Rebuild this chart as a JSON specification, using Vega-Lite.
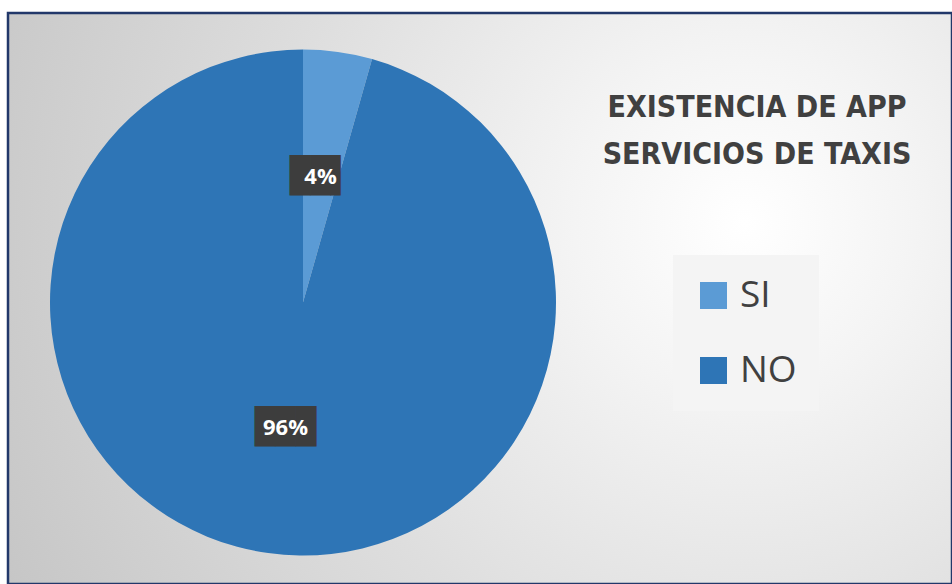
{
  "$schema": "https://vega.github.io/schema/vega-lite/v6.json",
  "autosize": {"type": "fit", "contains": "padding"},
  "width": 952,
  "height": 584,
  "padding": {"left": 8, "top": 13, "right": 0, "bottom": 0},
  "background": "#ffffff",
  "view": {
    "stroke": "#22386a",
    "strokeWidth": 2.5,
    "fill": {
      "gradient": "radial",
      "x1": 0.78, "y1": 0.42, "r1": 0,
      "x2": 0.78, "y2": 0.42, "r2": 0.9,
      "stops": [
        {"offset": 0, "color": "#ffffff"},
        {"offset": 0.2, "color": "#f4f4f4"},
        {"offset": 0.55, "color": "#dedede"},
        {"offset": 1, "color": "#c4c4c4"}
      ]
    }
  },
  "title": {
    "text": ["EXISTENCIA DE APP", "SERVICIOS DE TAXIS"],
    "orient": "top",
    "anchor": "start",
    "frame": "group",
    "align": "center",
    "baseline": "middle",
    "dx": 749,
    "dy": 172,
    "offset": 0,
    "font": "Liberation Sans Narrow, DejaVu Sans Condensed, Lato",
    "fontSize": 30,
    "fontWeight": "bold",
    "lineHeight": 47,
    "color": "#404040"
  },
  "data": {
    "values": [
      {"respuesta": "SI", "porcentaje": 4.4, "etiqueta": "4%"},
      {"respuesta": "NO", "porcentaje": 95.6, "etiqueta": "96%"}
    ]
  },
  "encoding": {
    "theta": {"field": "porcentaje", "type": "quantitative", "stack": true},
    "order": {"field": "porcentaje", "type": "quantitative", "sort": "ascending"}
  },
  "layer": [
    {
      "mark": {"type": "arc", "outerRadius": 253, "x": 295, "y": 289.5},
      "encoding": {
        "color": {
          "field": "respuesta",
          "type": "nominal",
          "scale": {"domain": ["SI", "NO"], "range": ["#5b9bd5", "#2e75b6"]},
          "sort": ["SI", "NO"],
          "legend": {
            "title": null,
            "orient": "none",
            "legendX": 665,
            "legendY": 242,
            "padding": 22,
            "fillColor": "#f4f4f4",
            "symbolType": "square",
            "symbolSize": 729,
            "symbolStrokeWidth": 0,
            "labelFont": "Open Sans",
            "labelFontSize": 37,
            "labelColor": "#404040",
            "labelOffset": 8,
            "rowPadding": 37
          }
        }
      }
    },
    {
      "mark": {"type": "text", "radius": 127, "x": 295, "y": 289.5, "font": "DejaVu Sans Mono", "fontSize": 34, "color": "#3d3d3d", "align": "center", "baseline": "middle"},
      "encoding": {
        "text": {"condition": {"test": "datum.respuesta == 'SI'", "value": "██▌"}, "value": "███"}
      }
    },
    {
      "mark": {"type": "text", "radius": 127, "x": 295, "y": 289.5, "font": "Open Sans", "fontSize": 22, "fontWeight": "bold", "color": "#ffffff", "align": "center", "baseline": "middle"},
      "encoding": {
        "text": {"field": "etiqueta", "type": "nominal"}
      }
    }
  ]
}
